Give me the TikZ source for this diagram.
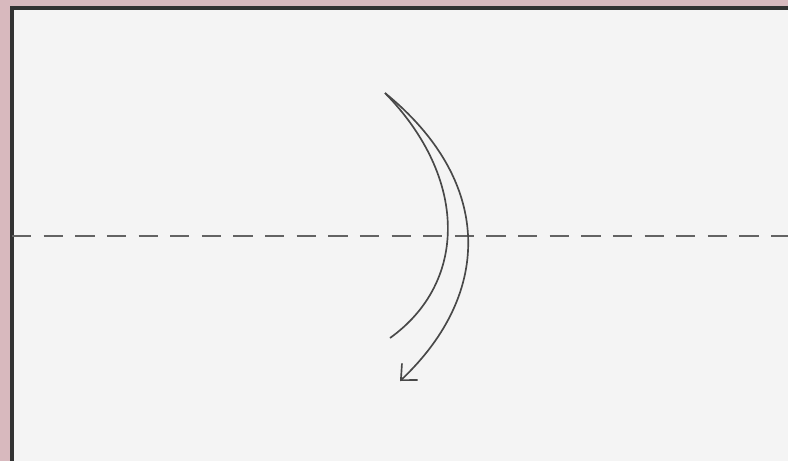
\documentclass[tikz,border=0pt]{standalone}
\usepackage{xcolor}
\usetikzlibrary{arrows.meta}
\definecolor{mauve}{RGB}{216,185,190}
\definecolor{paper}{RGB}{244,244,244}
\definecolor{ink}{RGB}{72,72,72}
\begin{document}
\begin{tikzpicture}[
    x=0.02cm, y=-0.02cm,
    edge/.style={draw=ink!70!black, line width=2.2pt},
    fold/.style={draw=ink!85, line width=1pt, dash pattern=on 11pt off 7pt},
    curl/.style={draw=ink, line width=0.95pt},
    turn/.style={curl, -{Straight Barb[length=7pt,width=13pt]}},
]
\useasboundingbox (0,0) rectangle (788,461);
\fill[mauve] (0,0) rectangle (788,461);
\fill[paper] (12,8) rectangle (788,461);
\draw[edge] (788,8) -- (12,8) -- (12,461);

% valley fold line
\coordinate (foldL) at (12,236);
\coordinate (foldR) at (788,236);
\draw[fold] (foldL) -- (foldR);

% turn-over arrow
\coordinate (tip) at (385,93);
\coordinate (tail) at (390,338);
\coordinate (head) at (400,381);
\draw[curl] (tip) .. controls (468,178) and (468,282) .. (tail);
\draw[turn] (tip) .. controls (492,180) and (494,292) .. (head);
\end{tikzpicture}
\end{document}
